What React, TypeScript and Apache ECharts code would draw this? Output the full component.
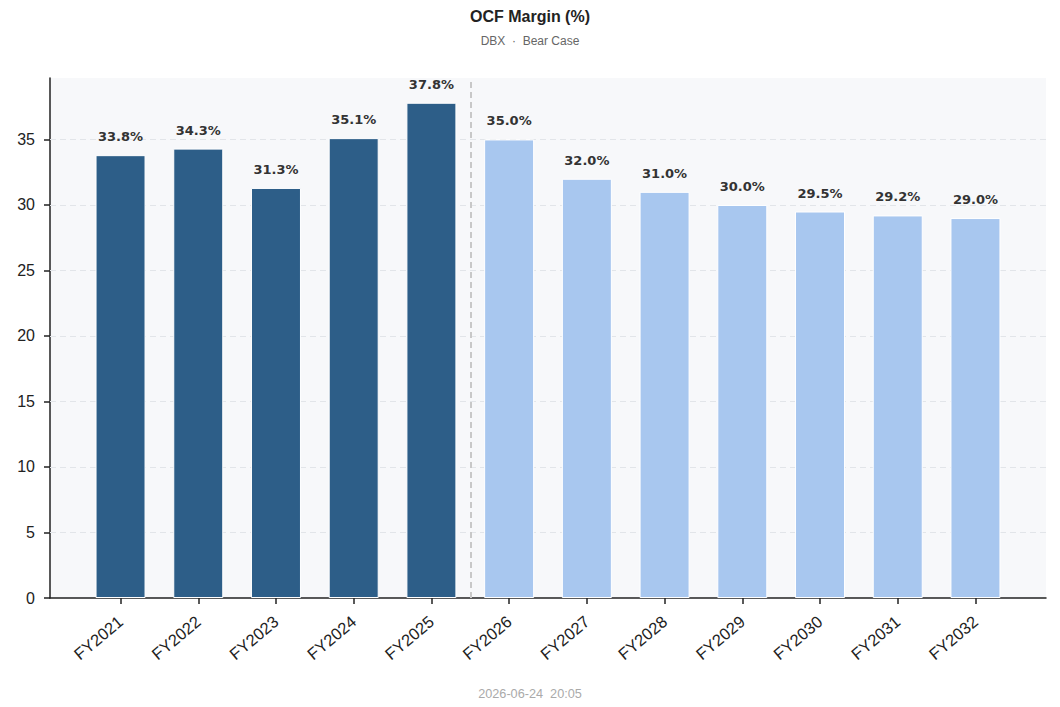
import React, { useEffect, useRef } from "react";
import * as echarts from "echarts";

const categories = ["FY2021", "FY2022", "FY2023", "FY2024", "FY2025", "FY2026", "FY2027", "FY2028", "FY2029", "FY2030", "FY2031", "FY2032"];
const values = [33.8, 34.3, 31.3, 35.1, 37.8, 35.0, 32.0, 31.0, 30.0, 29.5, 29.2, 29.0];
const historicalCount = 5;
const yTicks = [0, 5, 10, 15, 20, 25, 30, 35];
const gridLines = [5, 10, 15, 20, 25, 30, 35];
const titleText = "OCF Margin (%)";
const subtitleText = "DBX  ·  Bear Case";
const footerText = "2026-06-24  20:05";

const DARK = "#2d5e88";
const LIGHT = "#a8c7ef";
const DEJAVU = "DejaVu Sans";
const SANS = "Liberation Sans";

export default function App() {
  const ref = useRef<HTMLDivElement>(null);
  useEffect(() => {
    document.body.style.margin = "0";
    if (!ref.current) return;
    const chart = echarts.init(ref.current, null, { renderer: "svg" });
    const n = categories.length;
    const barW = 0.65;
    const span = (n - 1) + barW;
    const pad = span * 0.05;
    const xMin = -barW / 2 - pad;
    const xMax = n - 1 + barW / 2 + pad;
    const yMax = Math.max(...values) * 1.05;
    const idx = categories.map((_, i) => i);

    chart.setOption({
      animation: false,
      title: [
        {
          text: titleText,
          left: "center",
          top: 3,
          textStyle: { fontSize: 16, fontWeight: "bold", color: "#222", fontFamily: SANS },
        },
        {
          text: subtitleText,
          left: "center",
          top: 30,
          textStyle: { fontSize: 12, fontWeight: "normal", color: "#666", fontFamily: SANS },
        },
        {
          text: footerText,
          left: "center",
          top: 682,
          textStyle: { fontSize: 12.7, fontWeight: "normal", color: "#aaa", fontFamily: SANS },
        },
      ],
      grid: {
        left: 50,
        right: 14,
        top: 78,
        bottom: 109,
        show: true,
        backgroundColor: "#f7f8fa",
        borderWidth: 0,
      },
      xAxis: {
        type: "value",
        min: xMin,
        max: xMax,
        axisLine: { show: true, onZero: false, lineStyle: { color: "#222", width: 1.5 } },
        splitLine: { show: false },
        axisTick: { show: true, customValues: idx, length: 6, lineStyle: { color: "#222", width: 1.5 } },
        axisLabel: {
          customValues: idx,
          rotate: 40,
          fontSize: 16.5,
          fontFamily: SANS,
          color: "#222",
          margin: 21,
          formatter: (v: number) => categories[Math.round(v)] ?? "",
        },
      },
      yAxis: {
        type: "value",
        min: 0,
        max: yMax,
        axisLine: { show: true, onZero: false, lineStyle: { color: "#222", width: 1.5 } },
        splitLine: { show: false },
        axisTick: { show: true, customValues: yTicks, length: 6, lineStyle: { color: "#222", width: 1.5 } },
        axisLabel: { customValues: yTicks, fontSize: 16, fontFamily: SANS, color: "#222", margin: 15 },
      },
      series: [
        {
          type: "line",
          data: [],
          z: 1,
          silent: true,
          markLine: {
            silent: true,
            z: 1,
            symbol: "none",
            label: { show: false },
            lineStyle: { color: "#e2e5e9", type: [6, 4], width: 1.2 },
            data: gridLines.map((v) => ({ yAxis: v })),
          },
        },
        {
          type: "bar",
          z: 3,
          barWidth: 50,
          data: values.map((v, i) => ({
            value: [i, v],
            itemStyle: { color: i < historicalCount ? DARK : LIGHT, borderColor: "#fff", borderWidth: 1 },
          })),
          label: {
            show: true,
            position: "top",
            distance: 12,
            fontSize: 13,
            fontWeight: "bold",
            color: "#333",
            fontFamily: DEJAVU,
            formatter: (p: any) => p.value[1].toFixed(1) + "%",
          },
          markLine: {
            silent: true,
            z: 4,
            symbol: "none",
            label: { show: false },
            lineStyle: { color: "#c8c8c8", type: [6, 4], width: 2 },
            data: [{ xAxis: historicalCount - 0.5 }],
          },
        },
      ],
    });
    return () => chart.dispose();
  }, []);
  return <div ref={ref} style={{ width: 1060, height: 707 }} />;
}
